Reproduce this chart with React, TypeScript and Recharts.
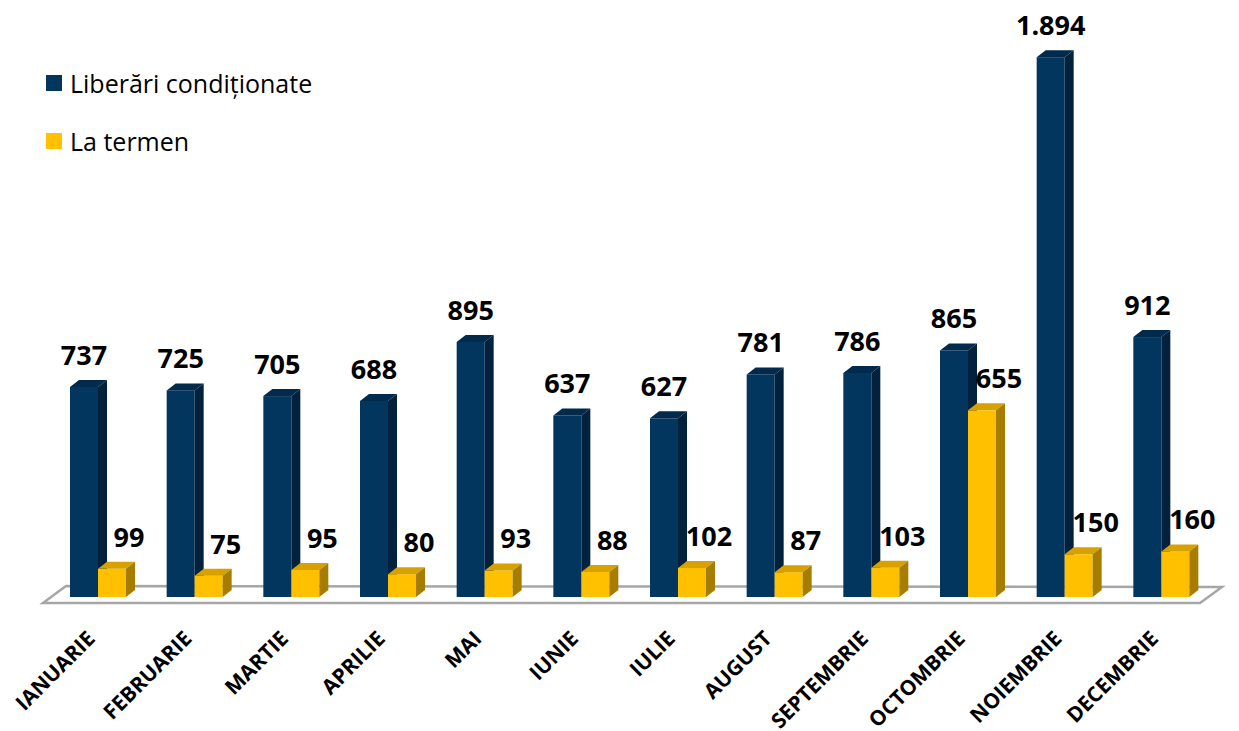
import React from 'react';
import { BarChart, Bar, XAxis, YAxis, Legend, LabelList, ReferenceArea } from 'recharts';

const months = ['IANUARIE', 'FEBRUARIE', 'MARTIE', 'APRILIE', 'MAI', 'IUNIE', 'IULIE', 'AUGUST', 'SEPTEMBRIE', 'OCTOMBRIE', 'NOIEMBRIE', 'DECEMBRIE'];
const liberari = [737, 725, 705, 688, 895, 637, 627, 781, 786, 865, 1894, 912];
const laTermen = [99, 75, 95, 80, 93, 88, 102, 87, 103, 655, 150, 160];
const seriesNames = ['Liberări condiționate', 'La termen'];

const data = months.map((m, i) => ({ month: m, lib: liberari[i], ter: laTermen[i] }));

const DX = 9;
const DY = 7;
const FONT = '"Open Sans", "DejaVu Sans", sans-serif';

const fmt = (v: number) => String(v).replace(/\B(?=(\d{3})+(?!\d))/g, '.');

function make3D(front: string, top: string, side: string) {
  return (props: any) => {
    const { x, y, width, height } = props;
    if (width == null || height == null) return <g />;
    const b = y + height;
    return (
      <g>
        <rect x={x} y={y} width={width} height={height} fill={front} />
        <polygon points={`${x},${y} ${x + DX},${y - DY} ${x + width + DX},${y - DY} ${x + width},${y}`} fill={top} />
        <polygon points={`${x + width},${y} ${x + width + DX},${y - DY} ${x + width + DX},${b - DY} ${x + width},${b}`} fill={side} />
      </g>
    );
  };
}

const BlueShape = make3D('#02365F', '#012A4C', '#01213C');
const YellowShape = make3D('#FFC000', '#D7A200', '#A67D00');

const makeLabel = (shift: number) => (props: any) => {
  const { x, y, width, value } = props;
  return (
    <text x={x + width / 2 + shift} y={y - 22} textAnchor="middle" fontFamily={FONT} fontWeight={700} fontSize={27} fill="#000">
      {fmt(value)}
    </text>
  );
};

const Floor = (props: any) => {
  const { x, y, width, height } = props;
  const b = y + height;
  const pts = `${x - 7},${b + 6} ${x + width - 10},${b + 6} ${x + width + 12},${b - 10} ${x + 16},${b - 11}`;
  return <polygon points={pts} fill="#FFFFFF" stroke="#A6A6A6" strokeWidth={2.5} strokeLinejoin="miter" />;
};

const MonthTick = (props: any) => {
  const { x, y, payload } = props;
  return (
    <g transform={`translate(${x - 2},${y + 43}) rotate(-45)`}>
      <text x={0} y={0} textAnchor="end" fontFamily={FONT} fontWeight={700} fontSize={21} fill="#000">
        {payload.value}
      </text>
    </g>
  );
};

const LegendContent = (props: any) => {
  const payload = [...(props.payload || [])].sort(
    (a: any, b: any) => seriesNames.indexOf(a.value) - seriesNames.indexOf(b.value)
  );
  return (
    <div style={{ fontFamily: FONT }}>
      {payload.map((p: any, i: number) => (
        <div key={i} style={{ position: 'relative', height: 58 }}>
          <span style={{ position: 'absolute', left: 0, top: 0, width: 16, height: 16, background: p.color }} />
          <span style={{ position: 'absolute', left: 24, top: -4, fontSize: 25, lineHeight: '24px', color: '#000', whiteSpace: 'nowrap' }}>
            {p.value}
          </span>
        </div>
      ))}
    </div>
  );
};

export default function App() {
  return (
    <div style={{ position: 'absolute', left: 0, top: 0, width: 1239, height: 731, background: '#fff' }}>
      <BarChart
        width={1239}
        height={731}
        data={data}
        margin={{ top: 27, right: 29, bottom: 34, left: 50 }}
        barSize={28}
        barGap={0}
      >
        <XAxis dataKey="month" axisLine={false} tickLine={false} tickSize={0} tickMargin={0} interval={0} height={100} tick={<MonthTick />} />
        <YAxis hide domain={[0, 2000]} />
        <ReferenceArea y1={0} y2={50} ifOverflow="visible" shape={Floor} />
        <Legend
          layout="vertical"
          align="center"
          verticalAlign="middle"
          content={<LegendContent />}
          wrapperStyle={{ left: 46, top: 75, width: 320, height: 120 }}
        />
        <Bar dataKey="lib" name={seriesNames[0]} fill="#02365F" shape={BlueShape} isAnimationActive={false}>
          <LabelList dataKey="lib" content={makeLabel(0)} />
        </Bar>
        <Bar dataKey="ter" name={seriesNames[1]} fill="#FFC000" shape={YellowShape} isAnimationActive={false}>
          <LabelList dataKey="ter" content={makeLabel(17)} />
        </Bar>
      </BarChart>
    </div>
  );
}
